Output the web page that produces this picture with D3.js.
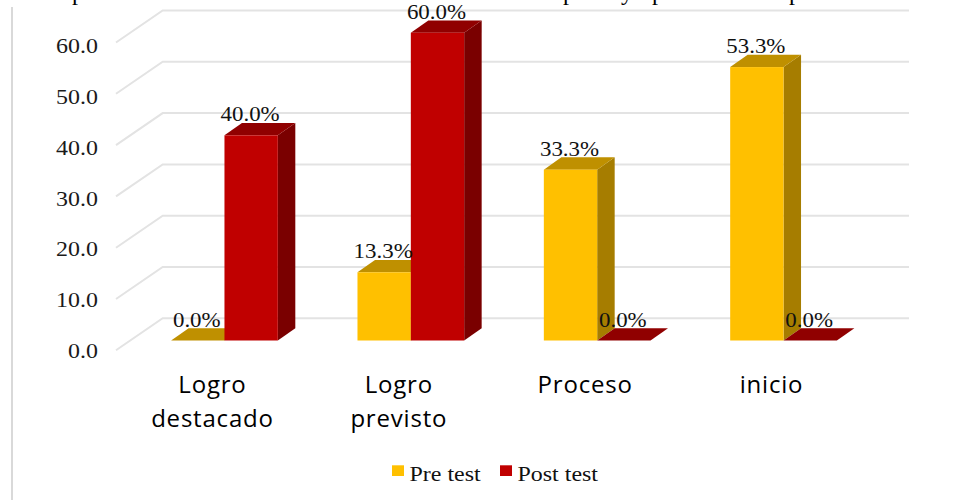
<!DOCTYPE html>
<html>
<head>
<meta charset="utf-8">
<script src="https://cdn.jsdelivr.net/npm/d3@7"></script>
<style>
body { margin:0; background:#fff; }
svg { display:block; }
</style>
</head>
<body>
<svg id="chart" width="960" height="500"></svg>
<script>
var categories = [["Logro","destacado"],["Logro","previsto"],["Proceso"],["inicio"]];
var catKeys = ["Logro destacado","Logro previsto","Proceso","inicio"];
var seriesNames = ["Pre test","Post test"];
var preTest = [0.0,13.3,33.3,53.3];
var postTest = [40.0,60.0,0.0,0.0];
var tickValues = [0,10,20,30,40,50,60];
var titleBits = [[72,"p"],[563,"p"],[621,"y"],[652,"p"],[789,"p"]];

var colors = {
    "Pre test":{front:"#ffc000",top:"#bf9000",side:"#a67d00"},
    "Post test":{front:"#c00000",top:"#900000",side:"#7a0000"}
};
var depth = {x:17.5,y:12.3};
var wall = {x:46.7,y:32};

var svg = d3.select("#chart");

var xScale = d3.scaleBand()
    .domain(catKeys)
    .range([131.3,876.7])
    .paddingInner(0.4275)
    .paddingOuter(0.2137);
var xInner = d3.scaleBand()
    .domain(seriesNames)
    .range([0,xScale.bandwidth()]);
var yScale = d3.scaleLinear()
    .domain([0,60])
    .range([340.5,32.7]);
//tick labels sit on a slightly tighter spacing than the bars
var labelScale = d3.scaleLinear()
    .domain([0,60])
    .range([358.3,52.7]);

//the source picture is stretched sideways, so widen the text to match
var stretch = function(selection,k)
{
    selection.each(function()
    {
        d3.select(this)
            .attr("textLength",this.getComputedTextLength()*k)
            .attr("lengthAdjust","spacingAndGlyphs");
    });
}

//left border
svg.append("line")
    .attr("x1",12).attr("x2",12)
    .attr("y1",7).attr("y2",500)
    .attr("stroke","#d9d9d9")
    .attr("stroke-width",2);

//title is cut off at the top of the picture
svg.selectAll(".titleBit")
    .data(titleBits)
    .enter()
    .append("text")
    .attr("x",function(d){return d[0]})
    .attr("y",-0.5)
    .attr("font-family","Liberation Serif")
    .attr("font-size",24)
    .attr("fill","#000")
    .text(function(d){return d[1]});

//gridlines on floor edge and back wall
var grid = svg.append("g");
tickValues.forEach(function(t)
{
    var yBack = yScale(t)-22.2;
    grid.append("polyline")
        .attr("points",(162.7-wall.x)+","+(yBack+wall.y)+" 162.7,"+yBack+" 909,"+yBack)
        .attr("fill","none")
        .attr("stroke","#e3e3e3")
        .attr("stroke-width",2);
});

//y axis labels
svg.selectAll(".ytick")
    .data(tickValues)
    .enter()
    .append("text")
    .attr("x",98)
    .attr("y",function(d){return labelScale(d)})
    .attr("text-anchor","end")
    .attr("font-family","Liberation Serif")
    .attr("font-size",21)
    .attr("fill","#1a1a1a")
    .text(function(d){return d.toFixed(1)})
    .call(stretch,1.14);

var bars = [];
catKeys.forEach(function(c,i)
{
    bars.push({cat:c,series:"Pre test",value:preTest[i]});
    bars.push({cat:c,series:"Post test",value:postTest[i]});
});

var barX = function(d){return xScale(d.cat)+xInner(d.series)};

//draw in order so the post bar covers the pre bar side
var barG = svg.selectAll(".bar")
    .data(bars)
    .enter()
    .append("g");

barG.append("polygon")
    .attr("fill",function(d){return colors[d.series].side})
    .attr("points",function(d)
    {
        var x = barX(d)+xInner.bandwidth(), y0 = yScale(0), y1 = yScale(d.value);
        return [[x,y0],[x+depth.x,y0-depth.y],[x+depth.x,y1-depth.y],[x,y1]].join(" ");
    });

barG.append("polygon")
    .attr("fill",function(d){return colors[d.series].top})
    .attr("points",function(d)
    {
        var x = barX(d), w = xInner.bandwidth(), y1 = yScale(d.value);
        return [[x,y1],[x+depth.x,y1-depth.y],[x+w+depth.x,y1-depth.y],[x+w,y1]].join(" ");
    });

barG.append("rect")
    .attr("x",barX)
    .attr("y",function(d){return yScale(d.value)})
    .attr("width",xInner.bandwidth())
    .attr("height",function(d){return yScale(0)-yScale(d.value)})
    .attr("fill",function(d){return colors[d.series].front});

//value labels
svg.selectAll(".vlabel")
    .data(bars)
    .enter()
    .append("text")
    .attr("x",function(d){return barX(d)+xInner.bandwidth()/2-1})
    .attr("y",function(d){return yScale(d.value)-14})
    .attr("text-anchor","middle")
    .attr("font-family","Liberation Serif")
    .attr("font-size",21)
    .attr("fill","#111")
    .text(function(d){return d.value.toFixed(1)+"%"})
    .call(stretch,1.09);

//category labels
var catG = svg.selectAll(".cat")
    .data(catKeys)
    .enter()
    .append("text")
    .attr("text-anchor","middle")
    .attr("font-family","Open Sans")
    .attr("font-size",24)
    .attr("letter-spacing",0.8)
    .attr("fill","#000");
catG.each(function(c,i)
{
    var cx = xScale(c)+xScale.bandwidth()/2-12;
    d3.select(this).selectAll("tspan")
        .data(categories[i])
        .enter()
        .append("tspan")
        .attr("x",cx)
        .attr("y",function(d,j){return 393+j*33.5})
        .text(function(d){return d});
});

//legend
var legendX = [392,500];
var legend = svg.selectAll(".legend")
    .data(seriesNames)
    .enter()
    .append("g")
    .attr("transform",function(d,i){return "translate("+legendX[i]+",465.3)"});
legend.append("rect")
    .attr("width",12)
    .attr("height",10.7)
    .attr("fill",function(d){return colors[d].front});
legend.append("text")
    .attr("x",17.5)
    .attr("y",15.7)
    .attr("font-family","Liberation Serif")
    .attr("font-size",21)
    .attr("fill","#111")
    .text(function(d){return d})
    .call(stretch,1.14);
</script>
</body>
</html>
